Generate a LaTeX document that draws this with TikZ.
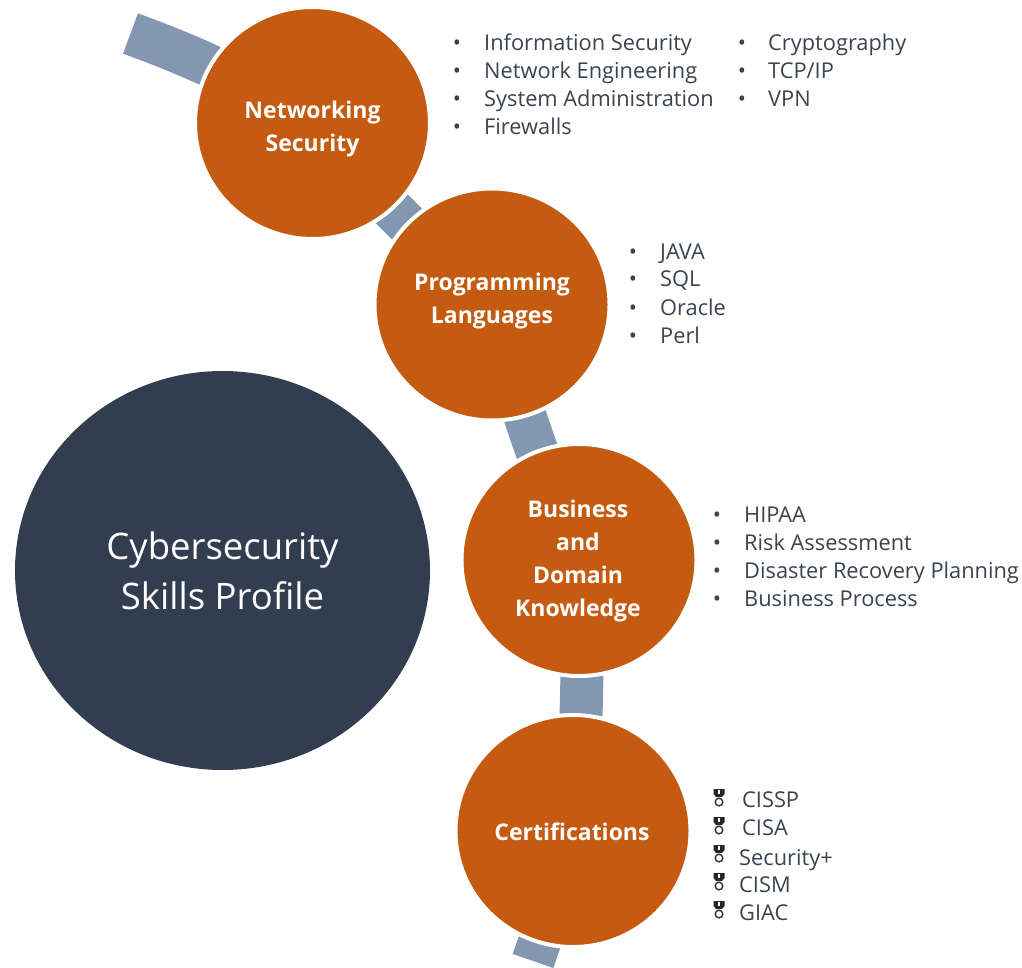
\documentclass[tikz,border=0pt]{standalone}
\usepackage{fontspec}
\setmainfont{Open Sans}
\usetikzlibrary{backgrounds,shapes.geometric}
\definecolor{orangefill}{HTML}{C55A11}
\definecolor{navyfill}{HTML}{323E4F}
\definecolor{bandblue}{HTML}{8497B0}
\definecolor{listgrey}{HTML}{3B4350}
\tikzset{
  skill/.style={ellipse,fill=orangefill,draw=white,line width=4pt,inner sep=0pt,minimum width=235pt,minimum height=232pt},
  title/.style={inner sep=0pt,text=white,align=center,font=\fontsize{23}{33}\selectfont\bfseries},
  hub/.style={ellipse,fill=navyfill,inner sep=0pt,minimum width=415pt,minimum height=399pt,text=white,align=center,font=\fontsize{36.5}{50}\selectfont},
  band/.style={draw=bandblue,line width=43pt,line cap=butt},
  item/.style={anchor=base west,inner sep=0pt,text=listgrey,font=\fontsize{21.8}{25}\selectfont},
  dot/.style={anchor=base,inner sep=0pt,text=listgrey,font=\fontsize{21.8}{25}\selectfont},
  pics/medal/.style={code={
    \fill[black!85] (-5.5,-8) -- (5.5,-8) -- (5.5,-3) -- (3,0) -- (-3,0) -- (-5.5,-3) -- cycle;
    \fill[white] (-1,-7) rectangle (1,-3);
    \draw[black!80,line width=1.4pt] (0,5) circle (3.8);
  }}
}
\begin{document}
\begin{tikzpicture}[x=1pt,y=-1pt]
\useasboundingbox (0,0) rectangle (1022,968);
\node[hub] (hub) at (222.5,570.5) {Cybersecurity\\Skills Profile};
\node[skill] (net) at (312.5,123) {};
\node[skill] (prog) at (492,304.5) {};
\node[skill] (biz) at (579,560) {};
\node[skill] (cert) at (573,831) {};
\node[title] (nettext) at (312.5,129) {Networking\\Security};
\node[title] (progtext) at (492,301) {Programming\\Languages};
\node[title] (biztext) at (578,561) {Business\\and\\Domain\\Knowledge};
\node[title] (certtext) at (572,832) {Certifications};
\coordinate (bandstart) at (130.5,33.5);
\coordinate (bandend) at (533,961);
\begin{scope}[on background layer]
\draw[band] (bandstart) to[bend left=6] (net.center);
\draw[band] (net.center) to[bend right=3] (prog.center);
\draw[band] (prog.center) to[bend right=3.5] (biz.center);
\draw[band] (biz.center) to[bend left=4] (cert.center);
\draw[band] (cert.center) to[bend left=2] (bandend);
\end{scope}
% lists
\foreach \n/\x/\y/\t in {a1/484/51/Information Security,a2/484/79/Network Engineering,a3/484/107/System Administration,a4/484/135/Firewalls,
  b1/768/51/Cryptography,b2/768/79/TCP\slash IP,b3/768/107/VPN,
  c1/660/259/JAVA,c2/660/287/SQL,c3/660/315/Oracle,c4/660/343/Perl,
  d1/744/522/HIPAA,d2/744/550/Risk Assessment,d3/744/578/Disaster Recovery Planning,d4/744/606/Business Process,
  e1/742/807/CISSP,e2/742/835/CISA,e3/739/865/Security+,e4/739/892/CISM,e5/739/920/GIAC}
  {\node[item] (\n) at (\x,\y) {\t};}
\foreach \n/\x/\y in {a1/457/51,a2/457/79,a3/457/107,a4/457/135,
  b1/742/51,b2/742/79,b3/742/107,
  c1/633/259,c2/633/287,c3/633/315,c4/633/343,
  d1/717/522,d2/717/550,d3/717/578,d4/717/606}
  {\node[dot] (dot\n) at (\x,\y) {•};}
\foreach \y in {797,825,853,881,909}
  \pic at (719,\y) {medal};
\end{tikzpicture}
\end{document}
